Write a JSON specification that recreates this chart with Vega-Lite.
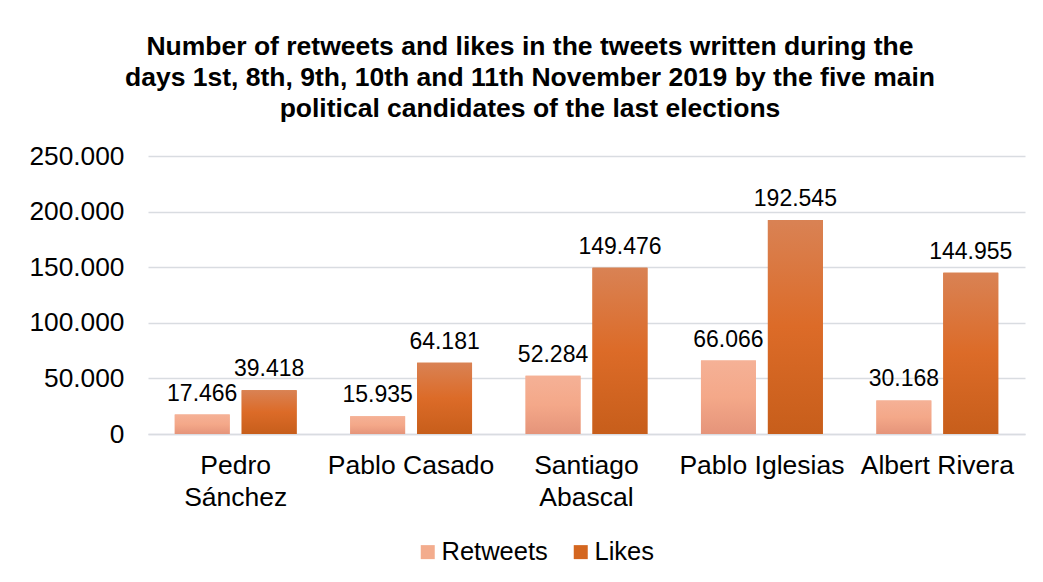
{
  "$schema": "https://vega.github.io/schema/vega-lite/v6.json",
  "width": 877,
  "height": 278,
  "padding": {"left": 28, "top": 33, "right": 18, "bottom": 10},
  "background": "white",
  "config": {
    "font": "Liberation Sans",
    "view": {"stroke": null},
    "locale": {"number": {"decimal": ",", "thousands": ".", "grouping": [3], "currency": ["", " €"]}}
  },
  "title": {
    "text": ["Number of retweets and likes in the tweets written during the", "days 1st, 8th, 9th, 10th and 11th November 2019 by the five main", "political candidates of the last elections"],
    "font": "Liberation Sans",
    "fontSize": 26.5,
    "fontWeight": "bold",
    "lineHeight": 31,
    "color": "#000000",
    "anchor": "middle",
    "frame": "bounds",
    "offset": 21,
    "dx": 3
  },
  "data": {
    "values": [
      {"candidate": "Pedro Sánchez", "series": "Retweets", "value": 17466},
      {"candidate": "Pedro Sánchez", "series": "Likes", "value": 39418},
      {"candidate": "Pablo Casado", "series": "Retweets", "value": 15935},
      {"candidate": "Pablo Casado", "series": "Likes", "value": 64181},
      {"candidate": "Santiago Abascal", "series": "Retweets", "value": 52284},
      {"candidate": "Santiago Abascal", "series": "Likes", "value": 149476},
      {"candidate": "Pablo Iglesias", "series": "Retweets", "value": 66066},
      {"candidate": "Pablo Iglesias", "series": "Likes", "value": 192545},
      {"candidate": "Albert Rivera", "series": "Retweets", "value": 30168},
      {"candidate": "Albert Rivera", "series": "Likes", "value": 144955}
    ]
  },
  "encoding": {
    "x": {
      "field": "candidate",
      "type": "nominal",
      "sort": null,
      "scale": {"paddingInner": 0, "paddingOuter": 0},
      "axis": {
        "title": null,
        "labelAngle": 0,
        "labelFontSize": 26.5,
        "labelColor": "#000000",
        "labelLineHeight": 32,
        "labelPadding": 18,
        "labelBaseline": "top",
        "ticks": false,
        "tickSize": 0,
        "domain": true,
        "domainColor": "#d9dce1",
        "domainWidth": 1.5,
        "labelExpr": "datum.value == 'Pedro Sánchez' ? ['Pedro', 'Sánchez'] : datum.value == 'Santiago Abascal' ? ['Santiago', 'Abascal'] : datum.value"
      }
    },
    "xOffset": {
      "field": "series",
      "type": "nominal",
      "sort": ["Retweets", "Likes"],
      "scale": {"paddingInner": 0.179, "paddingOuter": 0.4}
    },
    "y": {
      "field": "value",
      "type": "quantitative",
      "scale": {"domain": [0, 250000], "nice": false},
      "axis": {
        "title": null,
        "values": [0, 50000, 100000, 150000, 200000, 250000],
        "format": ",d",
        "labelFontSize": 26.3,
        "labelColor": "#000000",
        "labelPadding": 24,
        "ticks": false,
        "tickSize": 0,
        "domain": false,
        "grid": true,
        "gridColor": "#d9dce1",
        "gridWidth": 1.5
      }
    }
  },
  "layer": [
    {
      "mark": {"type": "bar"},
      "encoding": {
        "color": {
          "field": "series",
          "type": "nominal",
          "sort": ["Retweets", "Likes"],
          "scale": {"domain": ["Retweets", "Likes"], "range": ["#f3ac8d", "#d4661f"]},
          "legend": {
            "title": null,
            "orient": "none",
            "legendX": 267,
            "legendY": 383,
            "direction": "horizontal",
            "symbolType": "square",
            "symbolSize": 196,
            "symbolStrokeWidth": 0,
            "labelFontSize": 25.5,
            "labelColor": "#000000",
            "labelOffset": 1,
            "columnPadding": 20,
            "padding": 0
          }
        }
      }
    },
    {
      "mark": {"type": "bar"},
      "encoding": {
        "fill": {
          "condition": {
            "test": "datum.series === 'Likes'",
            "value": {"gradient": "linear", "x1": 0, "y1": 0, "x2": 0, "y2": 1, "stops": [{"offset": 0, "color": "#d98254"}, {"offset": 0.5, "color": "#dc6b28"}, {"offset": 1, "color": "#c75e1b"}]}
          },
          "value": {"gradient": "linear", "x1": 0, "y1": 0, "x2": 0, "y2": 1, "stops": [{"offset": 0, "color": "#f5b196"}, {"offset": 0.5, "color": "#f4a889"}, {"offset": 1, "color": "#e5947a"}]}
        }
      }
    },
    {
      "mark": {"type": "text", "fontSize": 23, "color": "#000000", "baseline": "alphabetic", "dy": -14},
      "encoding": {
        "text": {"field": "value", "type": "quantitative", "format": ",d"}
      }
    }
  ]
}
